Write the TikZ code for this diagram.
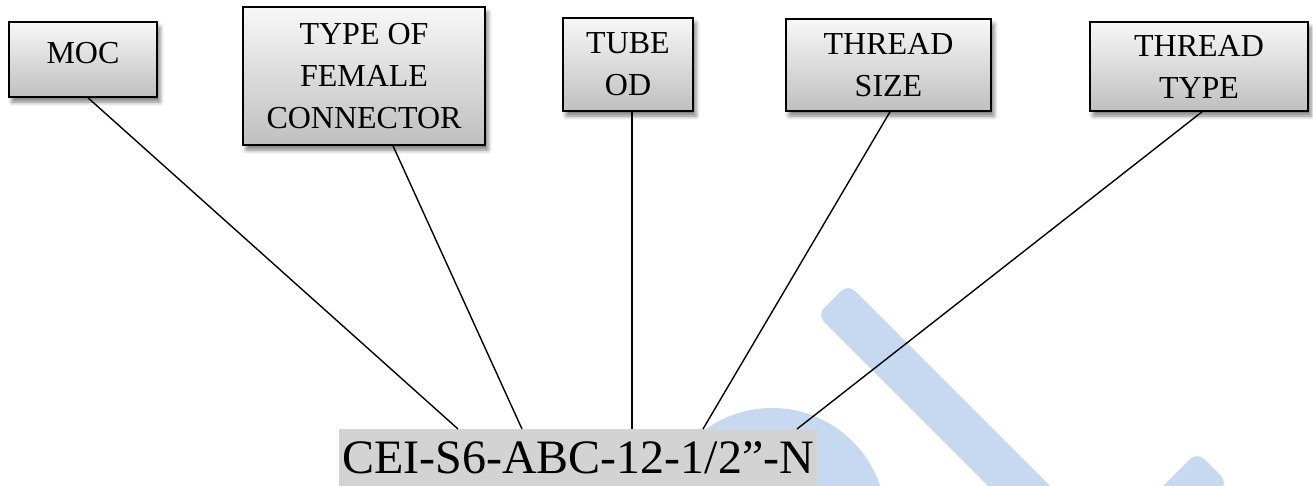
\documentclass[tikz,border=0pt]{standalone}
\usepackage{fontspec}
\setmainfont{Liberation Serif}
\usetikzlibrary{shadows.blur}
\definecolor{wmark}{RGB}{198,217,240}
\definecolor{codegray}{RGB}{211,211,211}
\begin{document}
\begin{tikzpicture}[x=1pt, y=-1pt,
	lbl/.style={draw=black, line width=1.6pt, top color=black!3, bottom color=black!25,
		align=center, inner sep=0pt, font=\fontsize{32}{42}\selectfont,
		blur shadow={shadow xshift=3pt, shadow yshift=-5pt, shadow blur radius=4pt, shadow opacity=50}},
	ln/.style={line width=1.4pt}]
					\useasboundingbox (0,0) rectangle (1313,485);
					\clip (0,0) rectangle (1313,485);
					\fill[wmark] (772,522) circle (114pt);
					\fill[wmark, rounded corners=10pt] (817,315) -- (848,284) -- (1148,584) -- (1117,615) -- cycle;
					\fill[wmark, rounded corners=10pt] (1197,452) -- (1228,483) -- (1028,683) -- (997,652) -- cycle;
					\node[lbl, minimum width=148pt, minimum height=75pt, text depth=14pt] (moc) at(83,59.5) {MOC};
					\node[lbl, minimum width=242pt, minimum height=138pt] (fem) at(364,76) {TYPE OF\\FEMALE\\CONNECTOR};
					\node[lbl, minimum width=130pt, minimum height=93pt] (od) at(628,64.5) {TUBE\\OD};
					\node[lbl, minimum width=205pt, minimum height=92pt] (size) at(888.5,65) {THREAD\\SIZE};
					\node[lbl, minimum width=218pt, minimum height=89pt] (ttype) at(1199,66.5) {THREAD\\TYPE};
					\node[fill=codegray, anchor=base west, inner xsep=3pt, inner ysep=4pt, text height=40pt,
						text depth=20pt, font=\fontsize{48}{58}\selectfont] (code) at(339,473) {CEI-S6-ABC-12-1/2”-N};
					\coordinate (e1) at(458,429);
					\coordinate (e2) at(522,429);
					\coordinate (e3) at(632,429);
					\coordinate (e4) at(703,429);
					\coordinate (e5) at(797,429);
					\draw[ln] ([xshift=5pt]moc.south) -- (e1);
					\draw[ln] ([xshift=29pt]fem.south) -- (e2);
					\draw[ln] ([xshift=4pt]od.south) -- (e3);
					\draw[ln] ([xshift=1.5pt]size.south) -- (e4);
					\draw[ln] ([xshift=3pt]ttype.south) -- (e5);
				\end{tikzpicture}
\end{document}
